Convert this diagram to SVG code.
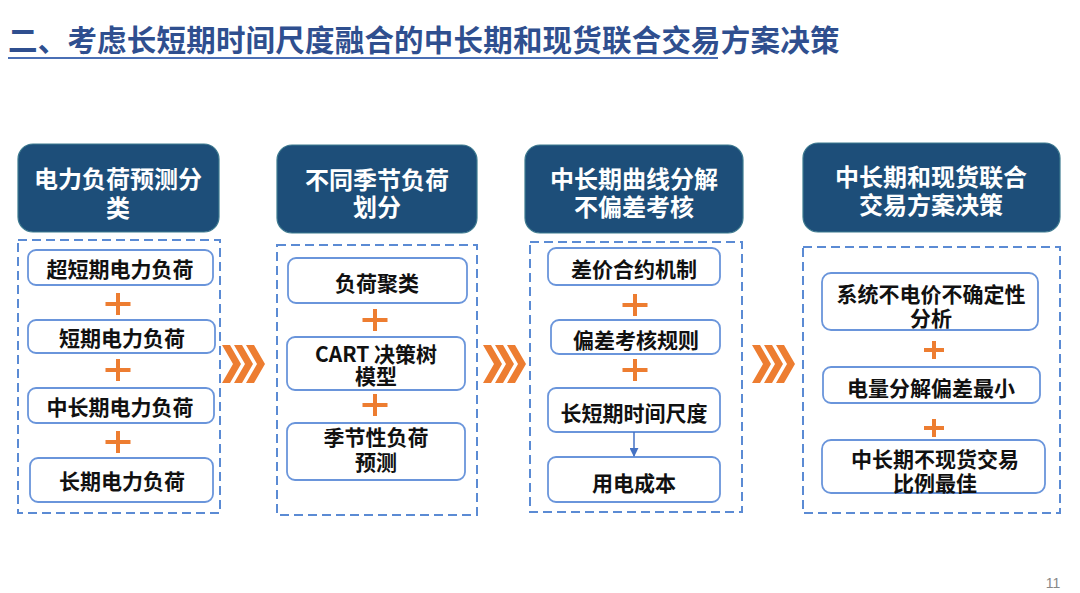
<svg xmlns="http://www.w3.org/2000/svg" width="1080" height="593" viewBox="0 0 1080 593">
<style>
text{font-family:"Noto Sans CJK SC","Liberation Sans",sans-serif;font-weight:bold;text-anchor:middle;dominant-baseline:central}
.title{font-size:29.5px;fill:#2F4F8F;text-anchor:start;dominant-baseline:auto;letter-spacing:0.2px}
.hdr{fill:#1D4E79;stroke:#3D7A8F;stroke-width:1.2}
.ht{fill:#fff;font-size:24px}
.dash{fill:none;stroke:#5B8BD4;stroke-width:2;stroke-dasharray:9 5}
.item{fill:#fff;stroke:#6A95DB;stroke-width:1.8}
.it{fill:#111;font-size:21px}
.plus{stroke:#ED7D31;stroke-width:4;fill:none}
.chev{fill:#ED7D31}
.pg{font-family:"Liberation Sans",sans-serif;font-weight:normal;font-size:14px;fill:#888}
</style>
<defs>
<g id="chevs">
<polygon class="chev" points="0,0 8,0 19,19 8,38 0,38 11,19"/>
<polygon class="chev" points="12,0 20,0 31,19 20,38 12,38 23,19"/>
<polygon class="chev" points="24,0 32,0 43,19 32,38 24,38 35,19"/>
</g>
<path id="plusL" class="plus" d="M-12.5,0H12.5M0,-11V11"/>
<path id="plusS" class="plus" d="M-10,0H10M0,-9V9"/>
<marker id="arr" viewBox="0 0 10 10" refX="9" refY="5" markerWidth="6" markerHeight="6" orient="auto">
<path d="M0,0L10,5L0,10z" fill="#4472C4"/>
</marker>
</defs>
<rect width="1080" height="593" fill="#fff"/>
<g id="title">
<text class="title" x="8" y="51">二、考虑长短期时间尺度融合的中长期和现货联合交易方案决策</text>
<line x1="8" y1="58" x2="718" y2="58" stroke="#4A6FB5" stroke-width="2"/>
</g>
<g id="col1">
<rect class="hdr" x="18" y="144" width="201" height="88" rx="15"/>
<text class="ht"><tspan x="118" y="177">电力负荷预测分</tspan><tspan x="118" y="206">类</tspan></text>
<rect class="dash" x="18" y="240" width="202" height="273"/>
<g id="c1i1"><rect class="item" x="28" y="250" width="185" height="35" rx="8"/><text class="it" x="120" y="268">超短期电力负荷</text></g>
<use href="#plusL" x="118" y="304"/>
<g id="c1i2"><rect class="item" x="28" y="320" width="187" height="33" rx="8"/><text class="it" x="122" y="337">短期电力负荷</text></g>
<use href="#plusL" x="118" y="370"/>
<g id="c1i3"><rect class="item" x="28" y="388" width="186" height="35" rx="8"/><text class="it" x="120" y="406">中长期电力负荷</text></g>
<use href="#plusL" x="118" y="442"/>
<g id="c1i4"><rect class="item" x="30" y="458" width="183" height="44" rx="8"/><text class="it" x="122" y="480">长期电力负荷</text></g>
</g>
<g id="col2">
<rect class="hdr" x="277" y="145" width="200" height="88" rx="15"/>
<text class="ht"><tspan x="377" y="178">不同季节负荷</tspan><tspan x="377" y="205">划分</tspan></text>
<rect class="dash" x="277" y="245" width="200" height="270"/>
<g id="c2i1"><rect class="item" x="288" y="258" width="179" height="45" rx="8"/><text class="it" x="377" y="282">负荷聚类</text></g>
<use href="#plusL" x="375" y="320"/>
<g id="c2i2"><rect class="item" x="287" y="337" width="178" height="53" rx="8"/><text class="it"><tspan x="376" y="353">CART 决策树</tspan><tspan x="376" y="375">模型</tspan></text></g>
<use href="#plusL" x="375" y="405"/>
<g id="c2i3"><rect class="item" x="287" y="423" width="178" height="57" rx="8"/><text class="it"><tspan x="376" y="436">季节性负荷</tspan><tspan x="376" y="461">预测</tspan></text></g>
</g>
<g id="col3">
<rect class="hdr" x="525" y="145" width="218" height="88" rx="15"/>
<text class="ht"><tspan x="634" y="177">中长期曲线分解</tspan><tspan x="634" y="205">不偏差考核</tspan></text>
<rect class="dash" x="530" y="242" width="212" height="270"/>
<g id="c3i1"><rect class="item" x="548" y="248" width="172" height="37" rx="8"/><text class="it" x="634" y="268">差价合约机制</text></g>
<use href="#plusL" x="635" y="305"/>
<g id="c3i2"><rect class="item" x="551" y="320" width="169" height="34" rx="8"/><text class="it" x="636" y="339">偏差考核规则</text></g>
<use href="#plusL" x="635" y="370"/>
<g id="c3i3"><rect class="item" x="548" y="388" width="172" height="44" rx="8"/><text class="it" x="634" y="412">长短期时间尺度</text></g>
<g id="c3i4"><rect class="item" x="548" y="457" width="172" height="45" rx="8"/><text class="it" x="634" y="482">用电成本</text></g>
</g>
<g id="col4">
<rect class="hdr" x="803" y="143" width="257" height="89" rx="15"/>
<text class="ht"><tspan x="931" y="175">中长期和现货联合</tspan><tspan x="931" y="203">交易方案决策</tspan></text>
<rect class="dash" x="803" y="247" width="257" height="266"/>
<g id="c4i1"><rect class="item" x="822" y="273" width="216" height="57" rx="9"/><text class="it"><tspan x="931" y="293">系统不电价不确定性</tspan><tspan x="931" y="317">分析</tspan></text></g>
<use href="#plusS" x="934" y="350"/>
<g id="c4i2"><rect class="item" x="823" y="367" width="217" height="36" rx="8"/><text class="it" x="931" y="387">电量分解偏差最小</text></g>
<use href="#plusS" x="934" y="428"/>
<g id="c4i3"><rect class="item" x="822" y="440" width="223" height="53" rx="9"/><text class="it"><tspan x="935" y="458">中长期不现货交易</tspan><tspan x="935" y="482">比例最佳</tspan></text></g>
</g>
<g id="connectors">
<use href="#chevs" x="222" y="345"/>
<use href="#chevs" x="483" y="345"/>
<use href="#chevs" x="752" y="345"/>
<line x1="634" y1="432" x2="634" y2="456" stroke="#4472C4" stroke-width="1.5" marker-end="url(#arr)"/>
</g>
<text class="pg" x="1053" y="583">11</text>
</svg>
